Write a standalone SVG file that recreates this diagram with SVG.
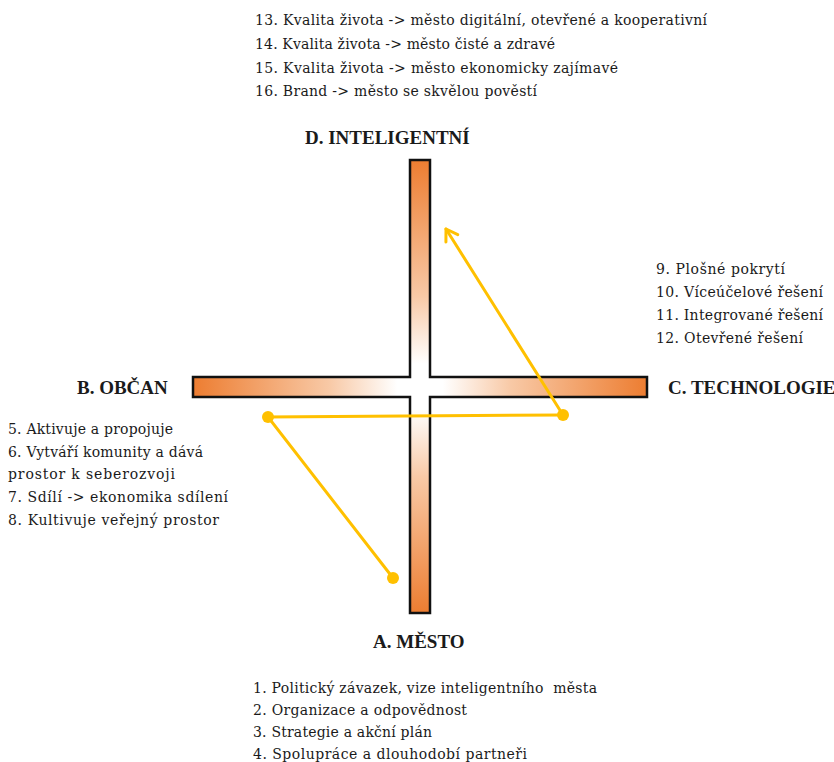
<svg xmlns="http://www.w3.org/2000/svg" width="834" height="762" viewBox="0 0 834 762">
<defs>
<style>
.t{font-family:"DejaVu Serif",serif;font-size:14px;fill:#1a1a1a}
.h{font-family:"Liberation Serif","DejaVu Serif",serif;font-size:19px;font-weight:bold;fill:#1a1a1a}
.c{fill:none;stroke:#FFC000;stroke-width:3;stroke-linecap:round}
.d{fill:#FFC000}
</style>
<linearGradient id="gh" x1="193" y1="0" x2="647" y2="0" gradientUnits="userSpaceOnUse">
<stop offset="0" stop-color="#ED7D31"/><stop offset="0.3" stop-color="#F8C9A6"/><stop offset="0.45" stop-color="#FFFFFF"/><stop offset="0.55" stop-color="#FFFFFF"/><stop offset="0.7" stop-color="#F8C9A6"/><stop offset="1" stop-color="#ED7D31"/>
</linearGradient>
<linearGradient id="gv" x1="0" y1="160" x2="0" y2="613" gradientUnits="userSpaceOnUse">
<stop offset="0" stop-color="#ED7D31"/><stop offset="0.3" stop-color="#F8C9A6"/><stop offset="0.45" stop-color="#FFFFFF"/><stop offset="0.55" stop-color="#FFFFFF"/><stop offset="0.7" stop-color="#F8C9A6"/><stop offset="1" stop-color="#ED7D31"/>
</linearGradient>
<marker id="arr" markerUnits="userSpaceOnUse" markerWidth="20" markerHeight="20" viewBox="-12 -10 14 20" refX="0" refY="0" orient="auto">
<path d="M-11,-7 L0,0 L-11,7" fill="none" stroke="#FFC000" stroke-width="3" stroke-linecap="round" stroke-linejoin="round"/>
</marker>
</defs>
<rect width="834" height="762" fill="#FFFFFF"/>
<g id="cross">
<rect x="193" y="377" width="454" height="20" fill="url(#gh)"/>
<rect x="410" y="160" width="20" height="453" fill="url(#gv)"/>
<rect x="410" y="377" width="20" height="20" fill="#FFFFFF"/>
<path d="M410,160 H430 V377 H647 V397 H430 V613 H410 V397 H193 V377 H410 Z" fill="none" stroke="#111111" stroke-width="2.5" stroke-linejoin="miter"/>
</g>
<g id="connectors">
<path class="c" d="M393,578 L268,417 L563,415"/>
<path class="c" d="M563,415 L446,229" marker-end="url(#arr)"/>
<circle class="d" cx="268" cy="417" r="6"/>
<circle class="d" cx="563" cy="415" r="6"/>
<circle class="d" cx="393" cy="578" r="6"/>
</g>
<g id="node-d">
<text class="h" x="305" y="144">D. INTELIGENTNÍ</text>
<text class="t" x="255" y="25" textLength="452">13. Kvalita života -&gt; město digitální, otevřené a kooperativní</text>
<text class="t" x="255" y="49" textLength="300">14. Kvalita života -&gt; město čisté a zdravé</text>
<text class="t" x="255" y="73" textLength="363">15. Kvalita života -&gt; město ekonomicky zajímavé</text>
<text class="t" x="255" y="96" textLength="282">16. Brand -&gt; město se skvělou pověstí</text>
</g>
<g id="node-b">
<text class="h" x="77" y="394">B. OBČAN</text>
<text class="t" x="8" y="434" textLength="165">5. Aktivuje a propojuje</text>
<text class="t" x="8" y="457" textLength="195">6. Vytváří komunity a dává</text>
<text class="t" x="8" y="479" textLength="167">prostor k seberozvoji</text>
<text class="t" x="8" y="502" textLength="220">7. Sdílí -&gt; ekonomika sdílení</text>
<text class="t" x="8" y="525" textLength="211">8. Kultivuje veřejný prostor</text>
</g>
<g id="node-c">
<text class="h" x="668" y="394">C. TECHNOLOGIE</text>
<text class="t" x="656" y="274" textLength="129">9. Plošné pokrytí</text>
<text class="t" x="656" y="297" textLength="167">10. Víceúčelové řešení</text>
<text class="t" x="656" y="320" textLength="167">11. Integrované řešení</text>
<text class="t" x="656" y="343" textLength="147">12. Otevřené řešení</text>
</g>
<g id="node-a">
<text class="h" x="373" y="648">A. MĚSTO</text>
<text class="t" x="253" y="693" textLength="344">1. Politický závazek, vize inteligentního&#160; města</text>
<text class="t" x="253" y="715" textLength="214">2. Organizace a odpovědnost</text>
<text class="t" x="253" y="737" textLength="179">3. Strategie a akční plán</text>
<text class="t" x="253" y="759" textLength="274">4. Spolupráce a dlouhodobí partneři</text>
</g>
</svg>
